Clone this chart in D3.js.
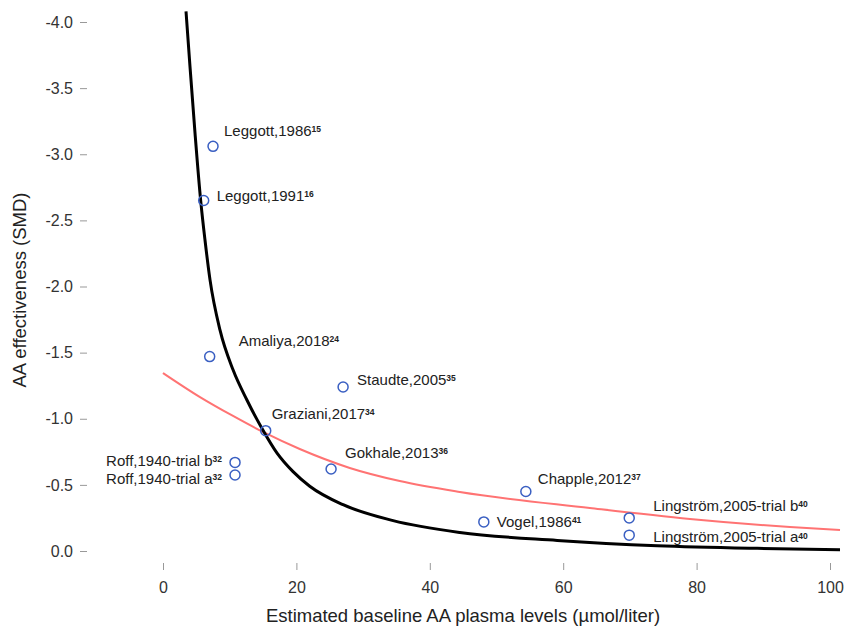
<!DOCTYPE html>
<html>
<head>
<meta charset="utf-8">
<script src="https://cdn.jsdelivr.net/npm/d3@7"></script>
<style>
  body { margin: 0; background: #fff; }
  svg { display: block; }
  text { font-family: "Liberation Sans", Arial, sans-serif; }
</style>
</head>
<body>
<svg id="chart" width="845" height="627"></svg>
<script>
// study labels, reference numbers and values
const studies = ['Leggott,1986', 'Leggott,1991', 'Amaliya,2018', 'Staudte,2005', 'Graziani,2017',
  'Gokhale,2013', 'Roff,1940-trial b', 'Roff,1940-trial a', 'Chapple,2012', 'Vogel,1986',
  'Lingström,2005-trial b', 'Lingström,2005-trial a']
const refs = ['15', '16', '24', '35', '34', '36', '32', '32', '37', '41', '40', '40']
const plasmaAA = [7.5, 6.1, 7.0, 27.0, 15.4, 25.2, 10.8, 10.8, 54.4, 48.1, 69.9, 69.9]
const smd = [-3.06, -2.65, -1.47, -1.24, -0.91, -0.62, -0.67, -0.575, -0.45, -0.22, -0.25, -0.12]

// fitted curves
const blackX = [3.45, 4.05, 4.8, 5.65, 6.3, 7.05, 8.55, 10.5, 12.6, 14.8, 17.1, 19.5, 22.0, 27.0, 34.5, 44.5, 59.1, 74.1, 89.1, 101.5]
const blackY = [-4.08, -3.66, -3.16, -2.65, -2.35, -2.05, -1.67, -1.37, -1.14, -0.93, -0.74, -0.60, -0.49, -0.35, -0.23, -0.14, -0.08, -0.04, -0.02, -0.01]
const redX = [0, 5.55, 10.5, 15.0, 20.5, 28.0, 35.5, 44.5, 64.0, 79.0, 94.0, 101.5]
const redY = [-1.346, -1.164, -1.021, -0.90, -0.771, -0.628, -0.529, -0.446, -0.325, -0.242, -0.181, -0.159]

const xTicks = [0, 20, 40, 60, 80, 100]
const yTicks = [0, -0.5, -1, -1.5, -2, -2.5, -3, -3.5, -4]

// label placement relative to each point: dx, dy, anchor
const labelPos = [
  [11, -16, 'start'], [13, -5, 'start'], [29, -16, 'start'], [14, -7, 'start'],
  [6, -17, 'start'], [14, -16, 'start'], [-13, -2, 'end'], [-13, 4, 'end'],
  [12, -13, 'start'], [13, 0, 'start'], [24, -12, 'start'], [24, 2, 'start']
]

const svg = d3.select('#chart')
const x = d3.scaleLinear().domain([0, 100]).range([163, 830])
const y = d3.scaleLinear().domain([0, -4]).range([551, 22])
const fmt = d => d3.format('.1f')(d).replace('\u2212', '-')

const yAxis = svg.append('g')
  .attr('transform', 'translate(87,0)')
  .call(d3.axisLeft(y).tickValues(yTicks).tickFormat(fmt).tickSize(7).tickPadding(7))
const xAxis = svg.append('g')
  .attr('transform', 'translate(0,563)')
  .call(d3.axisBottom(x).tickValues(xTicks).tickSize(7).tickPadding(11.5))

;[yAxis, xAxis].forEach(g => {
  g.select('.domain').remove()
  g.attr('font-family', null).attr('font-size', null)
  g.selectAll('.tick line').attr('stroke', '#999')
  g.selectAll('.tick text').attr('fill', '#333').style('font-size', '16px')
})

const line = d3.line().x(d => x(d[0])).y(d => y(d[1])).curve(d3.curveMonotoneX)

svg.append('path')
  .attr('d', line(redX.map((v, i) => [v, redY[i]])))
  .attr('fill', 'none')
  .attr('stroke', '#ff7373')
  .attr('stroke-width', 2)

svg.append('path')
  .attr('d', line(blackX.map((v, i) => [v, blackY[i]])))
  .attr('fill', 'none')
  .attr('stroke', '#000')
  .attr('stroke-width', 3)

svg.selectAll('circle.pt')
  .data(studies)
  .enter()
  .append('circle')
  .attr('class', 'pt')
  .attr('cx', (d, i) => x(plasmaAA[i]))
  .attr('cy', (d, i) => y(smd[i]))
  .attr('r', 5)
  .attr('fill', 'none')
  .attr('stroke', '#3a5fc2')
  .attr('stroke-width', 1.5)

const labels = svg.selectAll('text.lbl')
  .data(studies)
  .enter()
  .append('text')
  .attr('class', 'lbl')
  .attr('x', (d, i) => x(plasmaAA[i]) + labelPos[i][0])
  .attr('y', (d, i) => y(smd[i]) + labelPos[i][1])
  .attr('dy', '0.35em')
  .attr('text-anchor', (d, i) => labelPos[i][2])
  .attr('fill', '#222')
  .style('font-size', '15px')
labels.append('tspan').text(d => d)
labels.append('tspan')
  .text((d, i) => refs[i])
  .attr('dy', '-0.45em')
  .style('font-size', '8.5px')
  .style('font-weight', 'bold')

svg.append('text')
  .attr('x', 463)
  .attr('y', 622)
  .attr('text-anchor', 'middle')
  .attr('fill', '#222')
  .style('font-size', '18.5px')
  .text('Estimated baseline AA plasma levels (µmol/liter)')

svg.append('text')
  .attr('transform', 'translate(26,290) rotate(-90)')
  .attr('text-anchor', 'middle')
  .attr('fill', '#222')
  .style('font-size', '18.5px')
  .text('AA effectiveness (SMD)')
</script>
</body>
</html>
